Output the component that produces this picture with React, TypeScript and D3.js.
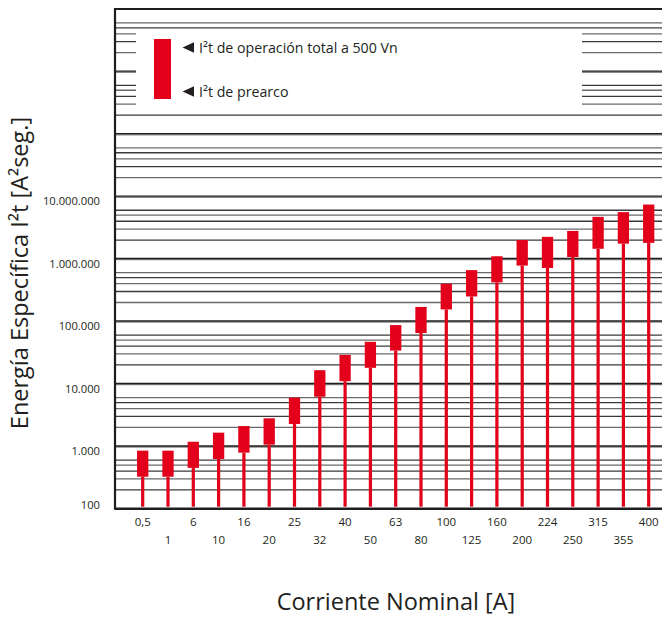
import React from 'react';
import * as d3 from 'd3';

const W = 662;
const H = 617;

// Rated currents of the fuse series (A)
const currents = ['0,5', '1', '6', '10', '16', '20', '25', '32', '40', '50', '63', '80', '100', '125', '160', '200', '224', '250', '315', '355', '400'];
// Total operating I²t at 500 V (top of each box), A²s
const totalI2t = [850, 850, 1180, 1650, 2100, 2800, 6000, 16500, 29000, 47000, 87000, 170000, 400000, 660000, 1100000, 2000000, 2250000, 2800000, 4700000, 5600000, 7400000];
// Pre-arcing I²t (bottom of each box), A²s
const prearcI2t = [325, 325, 450, 625, 790, 1060, 2270, 6200, 11000, 18000, 34000, 65000, 155000, 250000, 420000, 780000, 715000, 1070000, 1450000, 1750000, 1800000];

const yTickValues = [100, 1000, 10000, 100000, 1000000, 10000000];
const yTickLabels = ['100', '1.000', '10.000', '100.000', '1.000.000', '10.000.000'];
const decades = [2, 3, 4, 5, 6, 7, 8, 9];
const gridMultipliers = [2, 3, 4, 5, 6];
const legendLabels = ['I²t de operación total a 500 Vn', 'I²t de prearco'];

const RED = '#e2001a';
const INK = '#231f20';
const FONT = "'Open Sans', 'DejaVu Sans', sans-serif";

const plot = { left: 115, right: 662, top: 9, bottom: 508.7 };

export default function App() {
  const y = d3.scaleLog().domain([1e2, 1e10]).range([plot.bottom, plot.top]);
  const x = d3.scalePoint<string>().domain(currents).range([142.7, 648.7]);

  const majorLines = decades.slice(1).map((d) => Math.pow(10, d));
  const minorLines: number[] = [];
  decades.forEach((d) => gridMultipliers.forEach((m) => minorLines.push(m * Math.pow(10, d))));

  const boxW = 11.3;
  const stemW = 3.2;

  return (
    <svg width={W} height={H} style={{ position: 'absolute', left: 0, top: 0, background: '#fff' }} fontFamily={FONT}>
      <rect x={0} y={0} width={W} height={H} fill="#fff" />

      {/* minor grid */}
      {minorLines.map((v, i) => (
        <line key={'mn' + i} x1={plot.left} x2={plot.right} y1={y(v)} y2={y(v)}
          stroke={i % 2 === 0 ? '#3a3a3a' : '#6a6a6a'} strokeWidth={1.3} />
      ))}
      {/* decade lines */}
      {majorLines.map((v, i) => (
        <g key={'mj' + i}>
          <line x1={plot.left} x2={plot.right} y1={y(v) + 0.8} y2={y(v) + 0.8} stroke="#8a8a8a" strokeWidth={1.4} />
          <line x1={plot.left} x2={plot.right} y1={y(v) - 0.3} y2={y(v) - 0.3} stroke="#1e1e1e" strokeWidth={1.4} />
        </g>
      ))}

      {/* legend panel */}
      <rect x={136} y={30.5} width={446} height={80} fill="#fff" />
      <rect x={154} y={39} width={17} height={60} fill={RED} />
      {legendLabels.map((t, i) => {
        const cy = i === 0 ? 47.5 : 91.5;
        return (
          <g key={'lg' + i}>
            <path d={`M182.5,${cy} L194,${cy - 5.3} L194,${cy + 5.3} Z`} fill={INK} />
            <text x={199} y={cy + 5} fontSize={14.2} fill={INK}>{t}</text>
          </g>
        );
      })}

      {/* frame */}
      <line x1={plot.left} x2={plot.right} y1={plot.top} y2={plot.top} stroke="#1e1e1e" strokeWidth={2.2} />
      <line x1={plot.left} x2={plot.right} y1={plot.bottom} y2={plot.bottom} stroke="#1e1e1e" strokeWidth={2.4} />
      <line x1={plot.left} x2={plot.left} y1={plot.top - 1} y2={plot.bottom + 1} stroke="#1e1e1e" strokeWidth={2.2} />

      {/* stems and I²t boxes */}
      {currents.map((c, i) => {
        const cx = x(c) as number;
        const yTop = y(totalI2t[i]);
        const yBot = y(prearcI2t[i]);
        return (
          <g key={'bar' + i}>
            <rect x={cx - stemW / 2} y={yBot} width={stemW} height={plot.bottom - 2 - yBot} fill={RED} />
            <rect x={cx - boxW / 2} y={yTop} width={boxW} height={yBot - yTop} fill={RED} />
          </g>
        );
      })}

      {/* y tick labels */}
      {yTickValues.map((v, i) => (
        <text key={'yt' + i} x={100} y={i === 0 ? y(v) + 0.5 : y(v) + 9} textAnchor="end" fontSize={11.2} fill={INK}>
          {yTickLabels[i]}
        </text>
      ))}

      {/* x tick labels, staggered on two rows */}
      {currents.map((c, i) => (
        <text key={'xt' + i} x={x(c) as number} y={i % 2 === 0 ? 526 : 544} textAnchor="middle" fontSize={11.5} fill={INK}>
          {c}
        </text>
      ))}

      {/* axis titles */}
      <text x={396} y={610} textAnchor="middle" fontSize={23.5} fill={INK}>Corriente Nominal [A]</text>
      <text transform="translate(28,273) rotate(-90)" textAnchor="middle" fontSize={23.5} fill={INK}>
        Energía Específica I²t [A²seg.]
      </text>
    </svg>
  );
}
